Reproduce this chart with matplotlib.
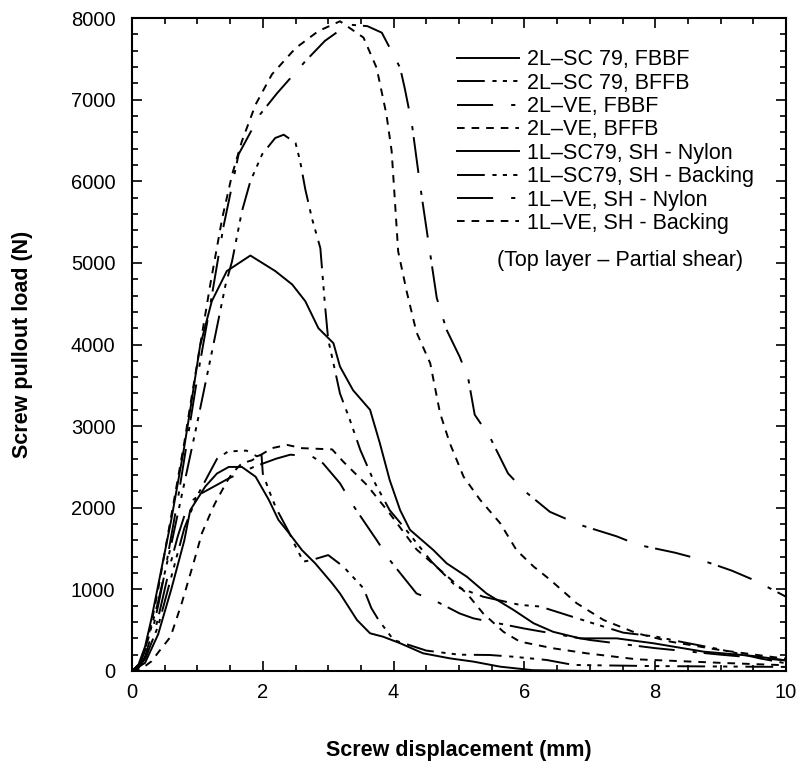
import matplotlib
matplotlib.use("Agg")
import matplotlib.pyplot as plt
from matplotlib.ticker import MultipleLocator

plt.rcParams['font.family'] = ['Liberation Sans', 'DejaVu Sans']
plt.rcParams['lines.scale_dashes'] = False

labels = ['2L\u2013SC 79, FBBF', '2L\u2013SC 79, BFFB', '2L\u2013VE, FBBF', '2L\u2013VE, BFFB',
          '1L\u2013SC79, SH - Nylon', '1L\u2013SC79, SH - Backing', '1L\u2013VE, SH - Nylon', '1L\u2013VE, SH - Backing']

# 2L-SC 79, FBBF
x_2l_sc_fbbf = [0, 0.1, 0.2, 0.3, 0.4, 0.5, 0.6, 0.7, 0.8, 0.9, 1.04, 1.22, 1.45, 1.81, 2.19, 2.45, 2.65, 2.85,
                3.0, 3.08, 3.18, 3.38, 3.64, 3.79, 3.94, 4.1, 4.25, 4.61, 4.81, 5.12, 5.42, 5.83, 6.14, 6.44,
                6.85, 7.41, 7.97, 8.74, 9.5, 10.0]
y_2l_sc_fbbf = [0, 80, 300, 650, 1050, 1450, 1850, 2300, 2750, 3250, 3980, 4530, 4900, 5090, 4900, 4735, 4530, 4200,
                4080, 4016, 3730, 3440, 3200, 2790, 2340, 1970, 1730, 1480, 1320, 1155, 950, 750, 585, 480,
                400, 400, 340, 237, 184, 130]

# 2L-SC 79, BFFB
x_2l_sc_bffb = [0, 0.1, 0.2, 0.4, 0.6, 0.8, 1.0, 1.25, 1.43, 1.53, 1.68, 1.81, 1.99, 2.19, 2.32, 2.5, 2.57, 2.65,
                2.75, 2.88, 2.95, 3.0, 3.08, 3.18, 3.33, 3.49, 3.69, 3.94, 4.15, 4.58, 4.96, 5.37, 5.93, 6.24,
                6.65, 7.13, 7.51, 8.02, 8.43, 8.91, 9.6, 10.0]
y_2l_sc_bffb = [0, 60, 250, 850, 1550, 2300, 3050, 4020, 4730, 5020, 5630, 6000, 6330, 6530, 6570, 6470, 6250, 5900,
                5550, 5180, 4490, 4060, 3770, 3400, 3080, 2710, 2340, 1970, 1770, 1340, 1033, 910, 810, 790,
                686, 564, 470, 420, 352, 278, 155, 94]

# 2L-VE, FBBF
x_2l_ve_fbbf = [0, 0.1, 0.2, 0.3, 0.4, 0.5, 0.6, 0.7, 0.8, 0.9, 1.0, 1.2, 1.4, 1.63, 1.96, 2.22, 2.65, 2.95, 3.3,
                3.6, 3.82, 4.1, 4.17, 4.28, 4.4, 4.53, 4.66, 4.81, 5.01, 5.14, 5.24, 5.47, 5.75, 6.01, 6.39,
                6.85, 7.41, 7.74, 8.3, 8.63, 9.17, 9.53, 10.0]
y_2l_ve_fbbf = [0, 40, 180, 450, 800, 1200, 1650, 2100, 2600, 3100, 3600, 4500, 5450, 6330, 6820, 7080, 7470, 7720, 7920,
                7900, 7820, 7390, 7140, 6700, 5980, 5270, 4570, 4180, 3850, 3590, 3140, 2870, 2420, 2200, 1950,
                1790, 1650, 1545, 1450, 1380, 1230, 1107, 910]

# 2L-VE, BFFB
x_2l_ve_bffb = [0, 0.1, 0.2, 0.3, 0.4, 0.5, 0.6, 0.7, 0.8, 0.9, 1.04, 1.2, 1.38, 1.53, 1.68, 1.89, 2.14, 2.5, 2.85,
                3.18, 3.54, 3.74, 3.89, 3.97, 4.02, 4.07, 4.2, 4.35, 4.56, 4.71, 4.86, 5.07, 5.32, 5.63, 5.88,
                6.14, 6.39, 6.8, 7.21, 7.72, 8.23, 8.99, 10.0]
y_2l_ve_bffb = [0, 60, 250, 600, 1000, 1450, 1900, 2350, 2800, 3300, 3980, 4750, 5550, 6080, 6490, 6940, 7310, 7630, 7840,
                7960, 7760, 7390, 6820, 6370, 5760, 5140, 4650, 4150, 3770, 3160, 2790, 2380, 2100, 1810, 1480,
                1280, 1120, 830, 625, 462, 360, 257, 150]

# 1L-SC79, SH - Nylon
x_1l_sc_nylon = [0, 0.2, 0.4, 0.6, 0.8, 0.89, 1.12, 1.3, 1.48, 1.68, 1.89, 2.09, 2.24, 2.4, 2.6, 2.8, 3.06, 3.18,
                 3.44, 3.64, 3.84, 4.1, 4.45, 4.86, 5.22, 5.63, 6.13, 7.0, 8.0, 10.0]
y_1l_sc_nylon = [0, 100, 450, 1000, 1600, 1970, 2260, 2420, 2500, 2500, 2380, 2100, 1850, 1690, 1480, 1320, 1075, 950,
                 625, 462, 420, 340, 217, 155, 115, 53, 10, 0, 0, 0]

# 1L-SC79, SH - Backing
x_1l_sc_backing = [0, 0.2, 0.4, 0.6, 0.8, 1.0, 1.2, 1.3, 1.47, 1.75, 1.91, 1.98, 2.0, 2.1, 2.2, 2.3, 2.4, 2.49, 2.62,
                   2.75, 3.0, 3.23, 3.54, 3.66, 3.77, 4.0, 4.5, 5.0, 5.47, 5.83, 6.34, 6.75, 8.0, 10.0]
y_1l_sc_backing = [0, 150, 550, 1150, 1750, 2150, 2450, 2600, 2690, 2700, 2630, 2650, 2420, 2200, 2000, 1850, 1700, 1545,
                   1340, 1360, 1420, 1280, 1013, 770, 625, 380, 250, 200, 196, 175, 135, 74, 60, 50]

# 1L-VE, SH - Nylon
x_1l_ve_nylon = [0, 0.1, 0.2, 0.3, 0.4, 0.5, 0.6, 0.7, 0.8, 0.94, 1.07, 1.48, 1.86, 2.2, 2.42, 2.75, 2.92, 3.18, 3.38,
                 3.74, 3.94, 4.35, 4.66, 5.01, 5.22, 6.0, 7.0, 7.5, 8.0, 9.0, 10.0]
y_1l_ve_nylon = [0, 40, 150, 350, 650, 1000, 1350, 1650, 1900, 2100, 2180, 2360, 2500, 2600, 2650, 2630, 2545, 2300, 2030,
                 1605, 1360, 950, 850, 705, 645, 520, 380, 330, 280, 200, 130]

# 1L-VE, SH - Backing
x_1l_ve_backing = [0, 0.1, 0.2, 0.3, 0.41, 0.59, 0.76, 0.94, 1.07, 1.22, 1.27, 1.45, 1.53, 1.68, 1.83, 2.14, 2.37, 2.6,
                   3.06, 3.23, 3.59, 3.94, 4.35, 5.12, 5.37, 5.68, 5.93, 6.44, 6.95, 7.72, 9.0, 10.0]
y_1l_ve_backing = [0, 20, 60, 120, 237, 420, 830, 1320, 1690, 1970, 2055, 2320, 2420, 2545, 2580, 2730, 2770, 2730,
                   2715, 2565, 2280, 1930, 1490, 950, 705, 480, 360, 278, 217, 143, 100, 70]

xs = [x_2l_sc_fbbf, x_2l_sc_bffb, x_2l_ve_fbbf, x_2l_ve_bffb,
      x_1l_sc_nylon, x_1l_sc_backing, x_1l_ve_nylon, x_1l_ve_backing]
ys = [y_2l_sc_fbbf, y_2l_sc_bffb, y_2l_ve_fbbf, y_2l_ve_bffb,
      y_1l_sc_nylon, y_1l_sc_backing, y_1l_ve_nylon, y_1l_ve_backing]

# dash patterns in points (1 pt = 1.39 px here)
solid = None
dash_dot3 = (20, 5.5, 3, 4.5, 3, 4.5, 3, 5.5)
long_short = (26, 13, 3, 5)
short = (5.5, 5)
styles = [solid, dash_dot3, long_short, short] * 2

fig = plt.figure(figsize=(8.01, 7.67), dpi=100)
ax = fig.add_axes([132 / 801, 1 - 671 / 767, 654 / 801, 653 / 767])

for x, y, lab, ds in zip(xs, ys, labels, styles):
    line, = ax.plot(x, y, color='black', lw=1.4, label=lab)
    if ds is not None:
        line.set_dashes(ds)

ax.set_xlim(0, 10)
ax.set_ylim(0, 8000)
ax.xaxis.set_major_locator(MultipleLocator(2))
ax.xaxis.set_minor_locator(MultipleLocator(0.5))
ax.yaxis.set_major_locator(MultipleLocator(1000))
ax.yaxis.set_minor_locator(MultipleLocator(200))
ax.tick_params(which='both', direction='in', top=True, right=True, width=1.2, labelsize=14.5)
ax.tick_params(axis='y', pad=12)
ax.tick_params(axis='x', pad=9)
ax.tick_params(which='major', length=7)
ax.tick_params(which='minor', length=4)
for s in ax.spines.values():
    s.set_linewidth(1.5)

lab_font = dict(family=['Liberation Sans Narrow', 'Liberation Sans'], fontweight='bold', fontsize=15.5)
ax.set_xlabel('Screw displacement (mm)', labelpad=27, **lab_font)
ax.set_ylabel('Screw pullout load (N)', labelpad=27, **lab_font)

leg = ax.legend(loc='upper left', bbox_to_anchor=(0.497, 0.952), frameon=False, fontsize=15.5,
                handlelength=2.9, handletextpad=0.33, labelspacing=0.11, borderpad=0, borderaxespad=0)
ax.text(0.558, 0.629, '(Top layer \u2013 Partial shear)', transform=ax.transAxes, fontsize=15.5,
        ha='left', va='center')

fig.savefig('out.png', dpi=100)
